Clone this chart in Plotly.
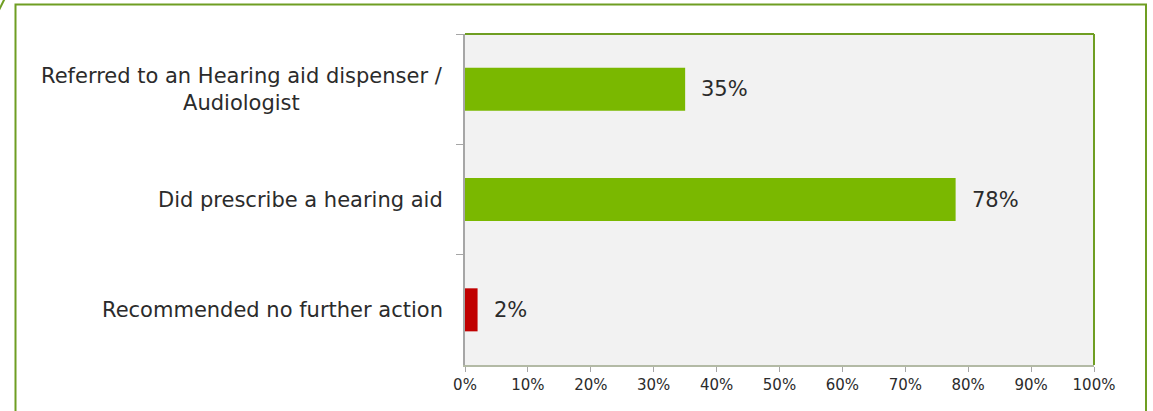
import plotly.graph_objects as go

# Survey outcome shares (percent)
categories = [
    "Referred to an Hearing aid dispenser /<br>Audiologist",
    "Did prescribe a hearing aid",
    "Recommended no further action",
]
values = [35, 78, 2]
bar_colors = ["#7ab800", "#7ab800", "#c00000"]
x_ticks = [0, 10, 20, 30, 40, 50, 60, 70, 80, 90, 100]
x_tick_labels = [f"{t}%" for t in x_ticks]

FONT = "DejaVu Sans, Verdana, sans-serif"
TEXT = "#2b2b2b"
FRAME = "#6f9e22"

W, H = 1153, 411
L, R, T, B = 465, 59, 34, 46
pw, ph = W - L - R, H - T - B


def px_x(x):
    return (x - L) / pw


def px_y(y):
    return (H - B - y) / ph


fig = go.Figure(
    go.Bar(
        x=values,
        y=categories,
        orientation="h",
        marker=dict(color=bar_colors, line=dict(width=0)),
        hoverinfo="skip",
    )
)

annotations = []
for cat, v in zip(categories, values):
    annotations.append(dict(
        x=v, y=cat, xref="x", yref="y", text=f"{v}%", showarrow=False,
        xanchor="left", xshift=14, font=dict(family=FONT, size=21, color=TEXT),
    ))
    annotations.append(dict(
        x=0, y=cat, xref="paper", yref="y", text=cat, showarrow=False,
        xanchor="right", align="center", xshift=-20,
        font=dict(family=FONT, size=21, color=TEXT),
    ))

shapes = [
    # outer frame
    dict(type="rect", xref="paper", yref="paper",
         x0=px_x(15.5), x1=px_x(1146), y0=px_y(440), y1=px_y(4.5),
         line=dict(color=FRAME, width=2), fillcolor="rgba(0,0,0,0)", layer="below"),
    # corner stroke at the top-left
    dict(type="line", xref="paper", yref="paper",
         x0=px_x(-1), y0=px_y(10), x1=px_x(4.5), y1=px_y(-1),
         line=dict(color=FRAME, width=2)),
    # top and right border of the plotting area
    dict(type="line", xref="paper", yref="paper", x0=0, x1=1, y0=1, y1=1,
         line=dict(color=FRAME, width=2), layer="above"),
    dict(type="line", xref="paper", yref="paper", x0=1, x1=1, y0=0, y1=1,
         line=dict(color=FRAME, width=2), layer="above"),
]

fig.update_layout(
    width=W, height=H,
    margin=dict(l=L, r=R, t=T, b=B, pad=0),
    paper_bgcolor="white",
    plot_bgcolor="#f2f2f2",
    bargap=0.61,
    showlegend=False,
    annotations=annotations,
    shapes=shapes,
    font=dict(family=FONT, color=TEXT),
    xaxis=dict(
        range=[0, 100], tickvals=x_ticks, ticktext=x_tick_labels,
        showgrid=False, zeroline=False,
        showline=True, linecolor="#b3baa5", linewidth=2,
        ticks="outside", ticklen=5, tickcolor="#a6a6a6", tickwidth=1,
        tickfont=dict(family=FONT, size=15, color=TEXT),
        fixedrange=True,
    ),
    yaxis=dict(
        categoryorder="array", categoryarray=categories, autorange="reversed",
        showticklabels=False, showgrid=False, zeroline=False,
        showline=True, linecolor="#a6a6a6", linewidth=2,
        ticks="outside", tickson="boundaries", ticklen=7,
        tickcolor="#a6a6a6", tickwidth=1,
        fixedrange=True,
    ),
)

fig.write_html("out.html", config={"displayModeBar": False})
